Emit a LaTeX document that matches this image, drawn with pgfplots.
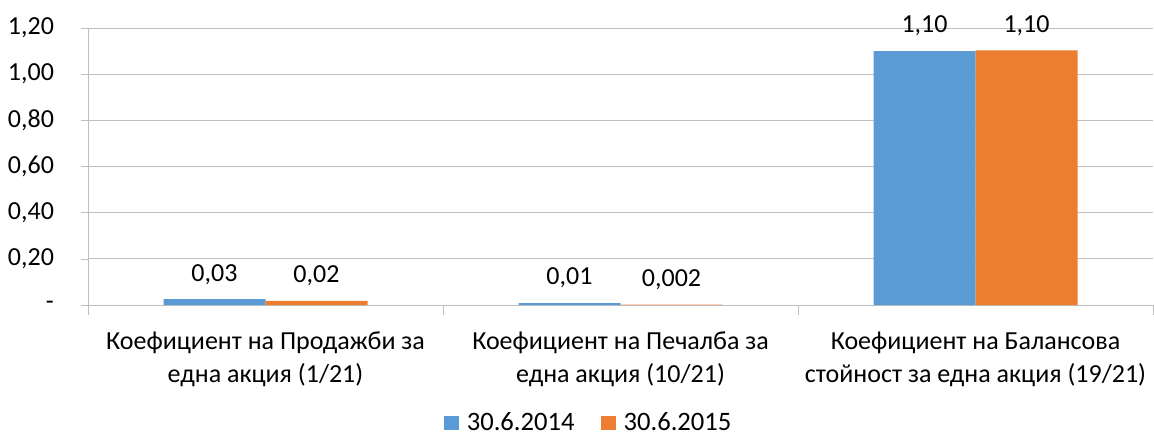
\documentclass[border=0pt]{standalone}
\usepackage{fontspec}
\setmainfont{Carlito}
\usepackage{pgfplots}
\usepackage{pgfplotstable}
\pgfplotsset{compat=1.18}
\definecolor{blu}{HTML}{5B9BD5}
\definecolor{ora}{HTML}{ED7D31}
\definecolor{gridc}{HTML}{BFBFBF}

% value, shown label
\pgfplotstableread{
x y lbl
0 0.025 0,03
1 0.008 0,01
2 1.100 1,10
}\first
\pgfplotstableread{
x y lbl
0 0.018 0,02
1 0.002 0,002
2 1.103 1,10
}\second

\begin{document}
\begin{tikzpicture}
\fontsize{13}{16.5}\selectfont
\useasboundingbox (-44pt,-67pt) rectangle (533pt,152.5pt);
\begin{axis}[
    scale only axis,
    width=532.5pt, height=138.5pt,
    xmin=-0.5, xmax=2.5,
    ymin=0, ymax=1.2,
    ybar=0pt, bar width=51pt,
    axis lines*=left,
    axis line style={gridc},
    tick align=outside,
    major tick length=3.5pt,
    ytick={0,0.2,0.4,0.6,0.8,1,1.2},
    yticklabels={-,{0,20},{0,40},{0,60},{0,80},{1,00},{1,20}},
    yticklabel style={xshift=-9pt},
    y tick style={gridc},
    ymajorgrids,
    major grid style={gridc},
    xtick={0,1,2},
    xticklabels={{Коефициент на Продажби за\\една акция (1/21)},
                 {Коефициент на Печалба за\\една акция (10/21)},
                 {Коефициент на Балансова\\стойност за една акция (19/21)}},
    x tick style={draw=none},
    xticklabel style={align=center, yshift=-5.5pt},
    extra x ticks={-0.5,0.5,1.5,2.5},
    extra x tick labels={},
    extra x tick style={x tick style={draw=gridc}, major tick length=5pt, grid=none},
    tick label style={font=\fontsize{13}{16.5}\selectfont},
    nodes near coords,
    point meta=explicit symbolic,
    nodes near coords style={anchor=center, yshift=12.5pt, font=\fontsize{13}{15}\selectfont},
    legend style={draw=none, legend columns=2, at={(0.471,0)}, anchor=center, yshift=-59pt,
        font=\fontsize{13.3}{15}\selectfont,
        /tikz/every odd column/.append style={column sep=2pt},
        /tikz/every even column/.append style={column sep=11pt}},
    legend image code/.code={\path[#1, draw=none] (0pt,-3.3pt) rectangle (7.5pt,3.3pt);},
]
\addplot[fill=blu, draw=none] table[x=x, y=y, meta=lbl] {\first};
\addplot[fill=ora, draw=none] table[x=x, y=y, meta=lbl] {\second};
\legend{30.6.2014, 30.6.2015}
\end{axis}
\end{tikzpicture}
\end{document}
